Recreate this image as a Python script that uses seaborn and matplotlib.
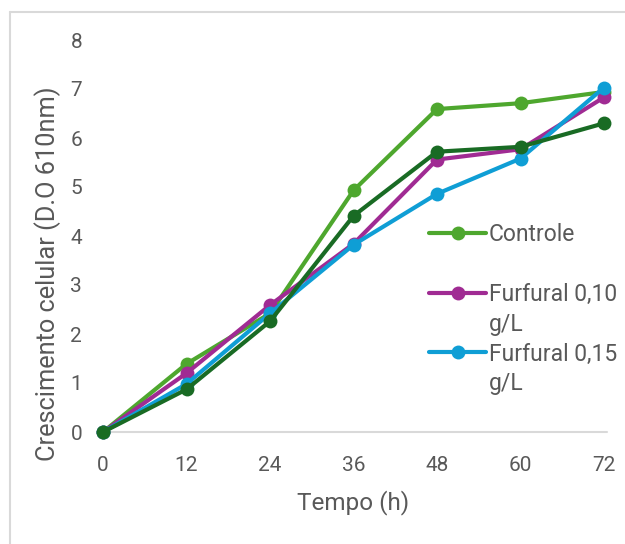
import matplotlib
matplotlib.use("Agg")
import matplotlib.pyplot as plt
import seaborn as sns
import pandas as pd
from matplotlib.lines import Line2D

tempo = [0, 12, 24, 36, 48, 60, 72]
controle = [0, 1.39, 2.42, 4.93, 6.59, 6.71, 6.94]
furfural_010 = [0, 1.20, 2.59, 3.84, 5.56, 5.77, 6.83]
furfural_015 = [0, 0.98, 2.42, 3.82, 4.86, 5.58, 7.03]
serie4 = [0, 0.87, 2.26, 4.41, 5.72, 5.82, 6.30]

colors = ["#4EA72E", "#A02B93", "#0F9ED5", "#196B24"]
yticks = [0, 1, 2, 3, 4, 5, 6, 7, 8]
xticks = [0, 12, 24, 36, 48, 60, 72]
# legend rows: (label, colour index or None for a continuation line)
legend_rows = [("Controle", 0), (" ", None), ("Furfural 0,10", 1), ("g/L", None),
               ("Furfural 0,15", 2), ("g/L", None)]

sns.set_style("white")
plt.rcParams["font.family"] = ["Roboto", "DejaVu Sans"]
txt = "#595959"

W, H = 625, 544
fig = plt.figure(figsize=(W / 100, H / 100), dpi=100)
ax = fig.add_axes([103 / W, (H - 432) / H, (604 - 103) / W, (432 - 40) / H])
ax.set_facecolor("none")

for vals, col in zip([controle, furfural_010, furfural_015, serie4], colors):
    df = pd.DataFrame({"t": tempo, "v": vals})
    sns.lineplot(data=df, x="t", y="v", ax=ax, color=col, marker="o",
                 markersize=10, markeredgewidth=0, linewidth=3,
                 clip_on=False, zorder=3)

ax.set_xlim(0, 72)
ax.set_ylim(0, 8)
ax.set_xticks(xticks)
ax.set_yticks(yticks)
ax.set_xticklabels([str(v) for v in xticks])
ax.set_yticklabels([str(v) for v in yticks])
ax.tick_params(axis="both", length=0, labelsize=15, colors=txt)
ax.tick_params(axis="x", pad=17)
ax.tick_params(axis="y", pad=15)
for s in ax.spines.values():
    s.set_visible(False)
ax.axhline(0, color="#D9D9D9", linewidth=1.5, zorder=1, xmax=1.005, clip_on=False)

ax.set_xlabel("Tempo (h)", fontsize=17.5, color=txt)
ax.set_ylabel("Crescimento celular (D.O 610nm)", fontsize=18.3, color=txt)
ax.xaxis.set_label_coords(0.5, (432 - 490) / 392)
ax.yaxis.set_label_coords((61 - 103) / 501, (432 - 274) / 392)

handles, labs = [], []
for lab, ci in legend_rows:
    if ci is None:
        handles.append(Line2D([], [], color="none", linewidth=0))
    else:
        handles.append(Line2D([], [], color=colors[ci], marker="o", markersize=10,
                              markeredgewidth=0, linewidth=3))
    labs.append(lab)
leg = ax.legend(handles, labs, loc="upper left",
                bbox_to_anchor=((429 - 103) / 501, (432 - 223) / 392),
                frameon=False, fontsize=16.5, handlelength=2.5, handletextpad=0.1,
                labelspacing=0.3, labelcolor=txt, borderaxespad=0, borderpad=0)

# chart frame
fig.add_artist(Line2D([10 / W, 10 / W], [0, 1 - 12 / H], color="#D9D9D9", linewidth=1.5))
fig.add_artist(Line2D([10 / W, 1], [1 - 12 / H, 1 - 12 / H], color="#D9D9D9", linewidth=1.5))

fig.savefig("out.png", dpi=100)
